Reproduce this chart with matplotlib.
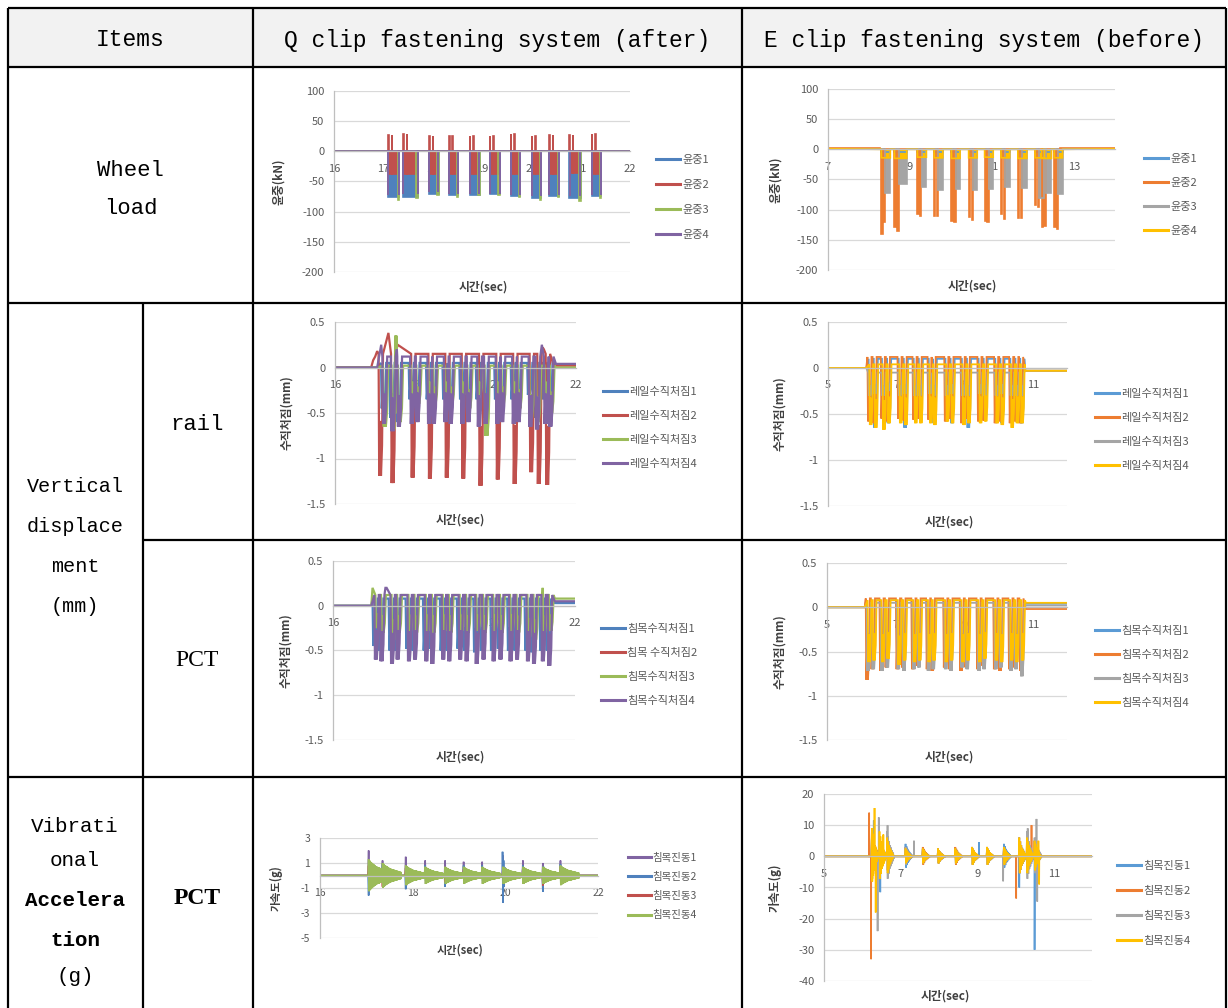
import matplotlib
matplotlib.use('Agg')
import matplotlib.pyplot as plt
from matplotlib.patches import Rectangle

# ====================== DATA ======================
HEADERS = ["Items", "Q clip fastening system (after)", "E clip fastening system (before)"]

# --- A: Q clip, wheel load (kN), x 16-22 ---
A_start = [17.10, 17.40, 17.93, 18.33, 18.75, 19.16, 19.58, 20.01, 20.36, 20.77, 21.22]
A_end   = [17.32, 17.70, 18.12, 18.52, 18.95, 19.36, 19.78, 20.20, 20.57, 21.00, 21.42]
A_load1 = [-75, -76, -70, -73, -72, -71, -74, -78, -74, -78, -74]
A_load2_up = [27, 28, 25, 26, 25, 25, 29, 25, 27, 27, 28]
A_load2_dn = [-38, -37, -38, -38, -37, -38, -38, -37, -38, -36, -38]
A_load3 = [-80, -78, -72, -75, -73, -72, -75, -80, -75, -82, -78]
A_load4 = [-72, -70, -68, -70, -70, -70, -72, -74, -72, -74, -72]

# --- B: E clip, wheel load (kN), x 7-14 ---
B_o_t = [8.30, 8.36, 8.62, 8.69, 9.18, 9.25, 9.59, 9.66, 10.01, 10.08, 10.43, 10.50,
         10.82, 10.89, 11.22, 11.29, 11.63, 11.70, 12.05, 12.11, 12.21, 12.28, 12.52, 12.59]
B_load2 = [-140, -120, -128, -135, -108, -110, -110, -110, -118, -120, -112, -117,
           -118, -120, -108, -115, -113, -113, -92, -95, -128, -127, -128, -132]
B_g_s = [8.40, 8.74, 9.29, 9.69, 10.11, 10.53, 10.92, 11.32, 11.73, 12.15, 12.32, 12.62]
B_g_e = [8.52, 8.92, 9.40, 9.80, 10.22, 10.64, 11.03, 11.43, 11.85, 12.28, 12.45, 12.72]
B_load3 = [-72, -57, -62, -67, -65, -67, -65, -62, -64, -80, -72, -74]
B_load4 = [-14, -15, -13, -14, -15, -14, -13, -14, -15, -14, -15, -14]
B_load1 = [-4, -4, -4, -4, -4, -4, -4, -4, -4, -4, -4, -4]

# --- C: Q clip, rail vertical displacement (mm), x 16-22 ---
C_dip_t = [17.24, 17.45, 17.61, 17.93, 18.07, 18.36, 18.48, 18.77, 18.90, 19.19, 19.34,
           19.60, 19.77, 20.06, 20.18, 20.47, 20.59, 20.88, 21.05, 21.26, 21.38]
C_rail1 = [-0.45, -0.55, -0.60, -0.35, -0.50, -0.35, -0.50, -0.35, -0.50, -0.35, -0.50,
           -0.35, -0.55, -0.35, -0.50, -0.35, -0.50, -0.30, -0.55, -0.35, -0.60]
C_rail3 = [-0.65, -0.68, -0.60, -0.30, -0.40, -0.30, -0.40, -0.30, -0.40, -0.30, -0.45,
           -0.30, -0.75, -0.30, -0.40, -0.30, -0.45, -0.55, -0.60, -0.30, -0.50]
C_rail4 = [-0.62, -0.70, -0.65, -0.62, -0.60, -0.62, -0.62, -0.60, -0.62, -0.62, -0.60,
           -0.65, -0.62, -0.62, -0.60, -0.62, -0.60, -0.65, -0.68, -0.62, -0.65]
C_red_t = [17.14, 17.45, 17.95, 18.38, 18.80, 19.21, 19.64, 20.07, 20.49, 20.90, 21.09, 21.30]
C_rail2 = [-1.19, -1.27, -1.21, -1.22, -1.21, -1.22, -1.30, -1.23, -1.28, -1.15, -1.28, -1.29]
C_red_pk_t = [16.95, 17.00, 17.05, 17.33, 17.56, 21.17, 21.20]
C_red_pk_v = [0.08, 0.12, 0.18, 0.38, 0.25, 0.22, 0.20]
C_pur_pk_t = [17.15, 17.54, 21.15]
C_pur_pk_v = [0.25, 0.20, 0.25]
C_grn_pk_t = [17.50, 17.53]
C_grn_pk_v = [0.35, 0.35]

# --- D: E clip, rail vertical displacement (mm), x 5-12 ---
D_dip_t = [6.24, 6.39, 6.63, 6.78, 7.12, 7.27, 7.56, 7.71, 8.00, 8.12, 8.49, 8.64,
           8.97, 9.12, 9.46, 9.61, 9.95, 10.10, 10.39, 10.54, 10.68]
D_rail1 = [-0.50, -0.65, -0.55, -0.60, -0.45, -0.65, -0.50, -0.55, -0.45, -0.60, -0.50,
           -0.60, -0.45, -0.65, -0.50, -0.55, -0.45, -0.60, -0.50, -0.55, -0.60]
D_rail2 = [-0.58, -0.60, -0.55, -0.58, -0.55, -0.57, -0.56, -0.55, -0.56, -0.55, -0.58,
           -0.55, -0.60, -0.55, -0.58, -0.57, -0.60, -0.58, -0.60, -0.58, -0.60]
D_rail3 = [-0.30, -0.28, -0.30, -0.25, -0.30, -0.28, -0.30, -0.30, -0.28, -0.30, -0.30,
           -0.28, -0.30, -0.30, -0.28, -0.30, -0.30, -0.28, -0.30, -0.30, -0.30]
D_rail4 = [-0.62, -0.65, -0.67, -0.60, -0.60, -0.62, -0.60, -0.60, -0.60, -0.62, -0.58,
           -0.60, -0.62, -0.60, -0.60, -0.58, -0.60, -0.62, -0.65, -0.60, -0.60]

# --- E: Q clip, sleeper (PCT) vertical displacement (mm), x 16-22 ---
E_dip_t = [17.08, 17.22, 17.48, 17.62, 17.90, 18.05, 18.33, 18.48, 18.75, 18.90, 19.17,
           19.33, 19.58, 19.75, 20.00, 20.17, 20.42, 20.58, 20.85, 21.00, 21.22, 21.38]
E_pct1 = [-0.45, -0.50, -0.50, -0.50, -0.48, -0.50, -0.50, -0.48, -0.50, -0.50, -0.48,
          -0.50, -0.52, -0.50, -0.50, -0.48, -0.50, -0.50, -0.50, -0.52, -0.50, -0.50]
E_pct3 = [-0.25, -0.30, -0.38, -0.30, -0.28, -0.30, -0.28, -0.30, -0.28, -0.30, -0.28,
          -0.30, -0.28, -0.30, -0.28, -0.30, -0.28, -0.30, -0.35, -0.38, -0.30, -0.28]
E_pct4 = [-0.60, -0.62, -0.65, -0.60, -0.62, -0.60, -0.62, -0.65, -0.60, -0.62, -0.60,
          -0.62, -0.65, -0.60, -0.62, -0.60, -0.62, -0.60, -0.62, -0.65, -0.62, -0.67]

# --- F: E clip, sleeper (PCT) vertical displacement (mm), x 5-12 ---
F_dip_t = [6.22, 6.37, 6.62, 6.78, 7.10, 7.26, 7.55, 7.70, 7.98, 8.12, 8.48, 8.63,
           8.96, 9.11, 9.45, 9.60, 9.94, 10.09, 10.38, 10.53, 10.70]
F_pct1 = [-0.60, -0.55, -0.60, -0.58, -0.60, -0.55, -0.58, -0.60, -0.55, -0.60, -0.58,
          -0.55, -0.60, -0.58, -0.55, -0.60, -0.58, -0.60, -0.55, -0.60, -0.58]
F_pct2 = [-0.82, -0.70, -0.72, -0.68, -0.70, -0.68, -0.70, -0.66, -0.70, -0.72, -0.68,
          -0.70, -0.72, -0.68, -0.70, -0.66, -0.70, -0.72, -0.70, -0.68, -0.72]
F_pct3 = [-0.72, -0.70, -0.72, -0.68, -0.70, -0.72, -0.70, -0.68, -0.72, -0.70, -0.70,
          -0.72, -0.68, -0.70, -0.72, -0.70, -0.70, -0.68, -0.72, -0.70, -0.78]
F_pct4 = [-0.62, -0.60, -0.62, -0.58, -0.65, -0.60, -0.62, -0.60, -0.62, -0.60, -0.62,
          -0.60, -0.62, -0.60, -0.62, -0.58, -0.60, -0.62, -0.60, -0.62, -0.60]

# --- G: Q clip, sleeper vibration acceleration (g), x 16-22 ---
G_burst_t = [17.05, 17.35, 17.85, 18.27, 18.70, 19.10, 19.50, 19.95, 20.38, 20.81, 21.19]
G_vib1 = [2.0, 1.2, 1.5, 1.2, 1.2, 1.1, 1.1, 1.6, 1.2, 1.0, 1.2]
G_vib2 = [-1.6, 0.9, -1.1, 0.8, -0.9, 0.8, 0.8, -2.2, 0.8, -1.3, 0.9]
G_vib3 = [0.8, -0.9, 0.6, 0.6, -0.5, 0.5, 0.5, 0.6, 0.6, -0.8, 0.7]
G_vib4 = [1.3, 1.0, 0.8, 0.7, 0.7, 0.7, 0.7, 0.7, 0.7, 0.7, 0.8]
G_spk_t = [19.94]
G_spk_v = [1.9]
G_RING_SHORT = [1.0, -0.55, 0.40, -0.30, 0.22, -0.15, 0.10, -0.05, 0.0]
G_RING_LONG = [1.0, -0.97, 0.94, -0.91, 0.88, -0.85, 0.82, -0.80, 0.78, -0.76, 0.74, -0.72,
               0.70, -0.68, 0.66, -0.64, 0.62, -0.60, 0.58, -0.56, 0.55, -0.54, 0.53, -0.52,
               0.51, -0.50, 0.49, -0.48, 0.47, -0.46, 0.45, -0.44, 0.43, -0.42, 0.41, -0.40,
               0.39, -0.38, 0.37, -0.36, 0.35, -0.34, 0.33, -0.32, 0.31, -0.30, 0.29, -0.28]

# --- H: E clip, sleeper vibration acceleration (g), x 5-12 ---
H_burst_t = [6.25, 6.45, 6.65, 7.13, 7.58, 7.98, 8.43, 8.87, 9.26, 9.70, 10.10, 10.30, 10.50]
H_vib1 = [6, 5, 5, 4, 2.5, 2.5, 2.5, 3, 3, 4, 6, 6, 5]
H_vib2 = [8, 6, 5, 3, 3, 2.5, 3, 3, 3, 3, 6, 6, 5]
H_vib3 = [6, 6, 8, 3, 2.5, 2.5, 2.5, 3, 3, 3, 6, 8, 6]
H_vib4 = [9, 8, 6, 2.5, 2.5, 2.5, 2.5, 3, 3, 3, 6, 6, 5]
H_spk1_t = [6.30, 6.47, 9.05, 10.10, 10.50]
H_spk1_v = [11.5, -11.5, 4.5, -10, -30]
H_spk2_t = [6.18, 6.23, 10.02, 10.42]
H_spk2_v = [14, -33, -13.5, 10]
H_spk3_t = [6.40, 6.43, 6.66, 7.35, 9.68, 10.32, 10.55, 10.57]
H_spk3_v = [-24, 12.5, 10, 5, -8, 9, 12, -14.5]
H_spk4_t = [6.32, 6.35, 6.55, 10.60, 10.62]
H_spk4_v = [15.5, -18, 7, 5, -9]
H_RING = [1.0, -0.9, 0.8, -0.7, 0.6, -0.5, 0.45, -0.4, 0.35, -0.3, 0.25, -0.2, 0.15, -0.1, 0.0]

# colours
Q_COL = ['#4F81BD', '#C0504D', '#9BBB59', '#8064A2']
E_COL = ['#5B9BD5', '#ED7D31', '#A5A5A5', '#FFC000']
G_COL = ['#8064A2', '#4F81BD', '#C0504D', '#9BBB59']

# dip outline template (relative time in dip widths, fraction of depth)
DIP_SHAPE = [(-0.5, 0.0), (-0.36, 1.0), (-0.16, 0.55), (0.04, 1.0), (0.28, 0.75), (0.5, 0.0)]

# ====================== FIGURE ======================
W, H = 1228, 1008
fig = plt.figure(figsize=(W / 100, H / 100), dpi=100)
plt.rcParams['font.family'] = ['Noto Sans CJK KR', 'DejaVu Sans']


def fbox(x0, y0, x1, y1):
    return [x0 / W, 1 - y1 / H, (x1 - x0) / W, (y1 - y0) / H]


# ---------- table ----------
bg = fig.add_axes([0, 0, 1, 1])
bg.set_xlim(0, W)
bg.set_ylim(H, 0)
bg.axis('off')
bg.add_patch(Rectangle((8, 8), 1218, 59, facecolor='#F2F2F2', edgecolor='none'))
LW = 1.6
for y, xa in [(8, 8), (67, 8), (303, 8), (540, 143), (777, 8)]:
    bg.plot([xa, 1226], [y, y], color='black', lw=LW, solid_capstyle='butt')
for x, ya in [(8, 8), (253, 8), (742, 8), (1226, 8), (143, 303)]:
    bg.plot([x, x], [ya, 1008], color='black', lw=LW, solid_capstyle='butt')

MONO = 'Liberation Mono'
SERIF = 'Liberation Serif'
bg.text(130, 40, HEADERS[0], ha='center', va='center', fontsize=16.5, family=MONO)
bg.text(497, 40, HEADERS[1], ha='center', va='center', fontsize=16.5, family=MONO)
bg.text(984, 40, HEADERS[2], ha='center', va='center', fontsize=16.5, family=MONO)
bg.text(130, 170, "Wheel", ha='center', va='center', fontsize=16, family=MONO)
bg.text(131, 209, "load", ha='center', va='center', fontsize=16, family=MONO)
for s, y in [("Vertical", 486), ("displace", 526), ("ment", 566), ("(mm)", 606)]:
    bg.text(75, y, s, ha='center', va='center', fontsize=14.5, family=MONO)
bg.text(197, 424, "rail", ha='center', va='center', fontsize=16, family=MONO)
bg.text(197, 661, "PCT", ha='center', va='center', fontsize=17, family=SERIF)
for s, y, wgt in [("Vibrati", 826, 'normal'), ("onal", 860, 'normal'),
                  ("Accelera", 900, 'bold'), ("tion", 940, 'bold'), ("(g)", 977, 'normal')]:
    bg.text(75, y, s, ha='center', va='center', fontsize=15, family=MONO, fontweight=wgt)
bg.text(197, 898, "PCT", ha='center', va='center', fontsize=17, family=SERIF, fontweight='bold')


# ---------- series builders ----------
def sort_pts(pts):
    pts = sorted(pts, key=lambda p: p[0])
    return [p[0] for p in pts], [p[1] for p in pts]


def dip_series(x0, x1, base0, base1, t_on, t_off, centers, depths, top, w,
               pk_t=(), pk_v=(), shift=0.0):
    pts = [(x0, base0), (t_on, base0)]
    for c, d in zip(centers, depths):
        for off, f in DIP_SHAPE:
            pts.append((c + shift + off * w, top + f * (d - top)))
    pts += list(zip(pk_t, pk_v))
    pts += [(t_off, base1), (x1, base1)]
    return sort_pts(pts)


def ring_series(x0, x1, centers, amps, ring, dt, sp_t=(), sp_v=(), eps=0.004):
    pts = [(x0, 0.0), (x1, 0.0)]
    for c, a in zip(centers, amps):
        pts.append((c - dt, 0.0))
        for k, r in enumerate(ring):
            pts.append((c + k * dt, a * r))
        pts.append((c + len(ring) * dt, 0.0))
    for t, v in zip(sp_t, sp_v):
        pts += [(t - eps, 0.0), (t, v), (t + eps, 0.0)]
    return sort_pts(pts)


def chart(bx, xlim, xticks, ylim, yticks, ylabel, series, colors, labels,
          ylab_x, xlab_xy, leg_xy, leg_sp, lw=1.4, fs=8, fs_leg=8, fills=None):
    x0, y0, x1, y1 = bx
    ax = fig.add_axes(fbox(*bx))
    ax.set_facecolor('none')
    if fills is None:
        fills = [False] * len(series)
    for (xs, ys), c, lab, fl in zip(series, colors, labels, fills):
        if fl:
            ax.fill_between(xs, ys, 0, color=c, lw=0)
        ax.plot(xs, ys, color=c, lw=lw, label=lab, solid_joinstyle='miter')
    ax.set_xlim(*xlim)
    ax.set_ylim(*ylim)
    ax.set_yticks(yticks)
    ax.set_yticklabels([f'{v:g}' for v in yticks])
    ax.set_xticks(xticks)
    ax.set_xticklabels([f'{v:g}' for v in xticks])
    ax.grid(axis='y', color='#D9D9D9', lw=0.9)
    ax.set_axisbelow(True)
    for s in ['top', 'right']:
        ax.spines[s].set_visible(False)
    ax.spines['left'].set_color('#BFBFBF')
    ax.spines['left'].set_linewidth(0.9)
    ax.spines['bottom'].set_position(('data', 0))
    ax.spines['bottom'].set_color('#BFBFBF')
    ax.spines['bottom'].set_linewidth(0.9)
    ax.tick_params(length=0, labelsize=fs, labelcolor='#595959')
    ax.tick_params(axis='y', pad=7)
    ax.tick_params(axis='x', pad=9)
    ax.set_ylabel(ylabel, fontsize=fs + 0.5, fontweight='bold', color='#404040')
    ax.yaxis.set_label_coords((ylab_x + 7 - x0) / (x1 - x0), 0.5)
    ax.set_xlabel('시간(sec)', fontsize=fs + 0.5, fontweight='bold', color='#404040')
    ax.xaxis.set_label_coords((xlab_xy[0] - x0) / (x1 - x0), -(xlab_xy[1] - 7 - y1) / (y1 - y0))
    lx, ly = leg_xy
    leg = ax.legend(loc='upper left', bbox_to_anchor=(lx / W, 1 - (ly - 4) / H),
                    bbox_transform=fig.transFigure, frameon=False, fontsize=fs_leg,
                    labelspacing=(leg_sp - 10) / (fs_leg * 1.389), handlelength=2.2,
                    handletextpad=0.15, borderpad=0, borderaxespad=0)
    for t in leg.get_texts():
        t.set_color('#595959')
    for l in leg.get_lines():
        l.set_linewidth(2.2)
    return ax


# ---------- A ----------
def q_wheel():
    b = [[16], [0]]; r = [[16], [0]]; g = [[16], [0]]; p = [[16], [0]]
    for s, e, d1, up, dn, d3, d4 in zip(A_start, A_end, A_load1, A_load2_up, A_load2_dn,
                                        A_load3, A_load4):
        b[0] += [s, s, e, e]; b[1] += [0, d1, d1, 0]
        r[0] += [s, s, s + 0.012, s + 0.012, s + 0.07, s + 0.07, s + 0.082, s + 0.082,
                 e - 0.02, e - 0.02]
        r[1] += [0, up, up, dn, dn, up, up, dn, dn, 0]
        g[0] += [e - 0.03, e - 0.03, e, e]; g[1] += [0, d3, d3, 0]
        for t in [s + 0.004, e - 0.004]:
            p[0] += [t, t, t]; p[1] += [0, d4, 0]
    for sr in (b, r, g, p):
        sr[0].append(22); sr[1].append(0)
    return [b, r, g, p]


chart((334, 91, 630, 272), (16, 22), [16, 17, 18, 19, 20, 21, 22], (-200, 100),
      [100, 50, 0, -50, -100, -150, -200], '윤중(kN)', q_wheel(), Q_COL,
      ['윤중1', '윤중2', '윤중3', '윤중4'], 278, (483, 288), (656, 159), 25,
      lw=1.2, fills=[True, True, True, False])


# ---------- B ----------
def e_wheel():
    o = [[7, 8.28, 8.28], [3, 3, 0]]
    for t, v in zip(B_o_t, B_load2):
        o[0] += [t, t, t + 0.03, t + 0.03]; o[1] += [0, v, v, 0]
    o[0] += [12.65, 12.65, 14]; o[1] += [0, 3, 3]
    gr = [[7], [0]]
    for s, e, v in zip(B_g_s, B_g_e, B_load3):
        gr[0] += [s, s, e, e]; gr[1] += [0, v, v, 0]
    gr[0].append(14); gr[1].append(0)
    y = [[7], [1]]; bl = [[7], [0]]
    for s, e, v, v1 in zip(B_o_t[::2], B_g_e, B_load4, B_load1):
        y[0] += [s, s, e, e]; y[1] += [0, v, v, 0]
        bl[0] += [s, s, e, e]; bl[1] += [0, v1, v1, 0]
    y[0].append(14); y[1].append(1)
    bl[0].append(14); bl[1].append(0)
    return [bl, o, gr, y]


chart((828, 89, 1115, 270), (7, 14), [7, 9, 11, 13], (-200, 100),
      [100, 50, 0, -50, -100, -150, -200], '윤중(kN)', e_wheel(), E_COL,
      ['윤중1', '윤중2', '윤중3', '윤중4'], 775, (972, 287), (1144, 158), 24,
      lw=1.2, fills=[False, True, True, True])

# ---------- C ----------
C_series = [
    dip_series(16, 22, 0, 0.03, 17.05, 21.50, C_dip_t, C_rail1, 0.05, 0.13, shift=-0.03),
    dip_series(16, 22, 0, 0.02, 16.90, 21.45, C_red_t, C_rail2, 0.15, 0.11, C_red_pk_t, C_red_pk_v),
    dip_series(16, 22, 0, 0.0, 17.05, 21.50, C_dip_t, C_rail3, 0.02, 0.13, C_grn_pk_t, C_grn_pk_v,
               shift=0.02),
    dip_series(16, 22, 0, 0.04, 17.05, 21.50, C_dip_t, C_rail4, 0.12, 0.12, C_pur_pk_t, C_pur_pk_v),
]
chart((335, 322, 576, 504), (16, 22), [16, 18, 20, 22], (-1.5, 0.5),
      [0.5, 0, -0.5, -1, -1.5], '수직처짐(mm)', C_series, Q_COL,
      ['레일수직처짐1', '레일수직처짐2', '레일수직처짐3', '레일수직처짐4'],
      286, (460, 521), (603, 391), 24, lw=1.6)

# ---------- D ----------
D_series = [
    dip_series(5, 12, 0, -0.03, 6.12, 10.78, D_dip_t, D_rail1, 0.10, 0.12, shift=0.01),
    dip_series(5, 12, 0, -0.03, 6.12, 10.78, D_dip_t, D_rail2, 0.12, 0.12, shift=-0.025),
    dip_series(5, 12, 0, -0.03, 6.12, 10.78, D_dip_t, D_rail3, -0.05, 0.12),
    dip_series(5, 12, 0, -0.03, 6.12, 10.78, D_dip_t, D_rail4, 0.04, 0.11, shift=0.025),
]
chart((828, 322, 1067, 506), (5, 12), [5, 7, 9, 11], (-1.5, 0.5),
      [0.5, 0, -0.5, -1, -1.5], '수직처짐(mm)', D_series, E_COL,
      ['레일수직처짐1', '레일수직처짐2', '레일수직처짐3', '레일수직처짐4'],
      779, (949, 523), (1095, 393), 24, lw=1.3)

# ---------- E ----------
E_series = [
    dip_series(16, 22, 0, 0.03, 16.95, 21.50, E_dip_t, E_pct1, 0.08, 0.13, shift=-0.035),
    ([], []),
    dip_series(16, 22, 0, 0.08, 16.95, 21.50, E_dip_t, E_pct3, 0.12, 0.12,
               [16.98, 21.20], [0.20, 0.20], shift=0.03),
    dip_series(16, 22, 0, 0.05, 16.95, 21.50, E_dip_t, E_pct4, 0.12, 0.11,
               [17.30, 17.33], [0.20, 0.20]),
]
chart((333, 561, 575, 740), (16, 22), [16, 18, 20, 22], (-1.5, 0.5),
      [0.5, 0, -0.5, -1, -1.5], '수직처짐(mm)', E_series, Q_COL,
      ['침목수직처짐1', '침목 수직처짐2', '침목수직처짐3', '침목수직처짐4'],
      285, (460, 758), (601, 628), 24, lw=1.6)

# ---------- F ----------
F_series = [
    dip_series(5, 12, 0, 0.04, 6.10, 10.80, F_dip_t, F_pct1, 0.08, 0.12, shift=-0.015),
    dip_series(5, 12, 0, -0.02, 6.10, 10.80, F_dip_t, F_pct2, 0.10, 0.12, shift=-0.03),
    dip_series(5, 12, 0, 0.02, 6.10, 10.80, F_dip_t, F_pct3, 0.05, 0.12),
    dip_series(5, 12, 0, 0.05, 6.10, 10.80, F_dip_t, F_pct4, 0.08, 0.11, shift=0.02),
]
chart((827, 563, 1067, 740), (5, 12), [5, 7, 9, 11], (-1.5, 0.5),
      [0.5, 0, -0.5, -1, -1.5], '수직처짐(mm)', F_series, E_COL,
      ['침목수직처짐1', '침목수직처짐2', '침목수직처짐3', '침목수직처짐4'],
      779, (949, 758), (1095, 630), 24, lw=1.3)

# ---------- G ----------
G_series = [
    ring_series(16, 22, G_burst_t, G_vib1, G_RING_SHORT, 0.012),
    ring_series(16, 22, G_burst_t, G_vib2, G_RING_SHORT, 0.012, G_spk_t, G_spk_v),
    ring_series(16, 22, G_burst_t, G_vib3, G_RING_SHORT, 0.014),
    ring_series(16, 22, G_burst_t, G_vib4, G_RING_LONG, 0.0085),
]
chart((320, 838, 598, 938), (16, 22), [16, 18, 20, 22], (-5, 3),
      [3, 1, -1, -3, -5], '가속도(g)', G_series, G_COL,
      ['침목진동1', '침목진동2', '침목진동3', '침목진동4'],
      276, (460, 951), (628, 857), 19, lw=1.2, fs=7.5, fs_leg=7.5)

# ---------- H ----------
H_series = [
    ring_series(5, 12, H_burst_t, H_vib1, H_RING, 0.013, H_spk1_t, H_spk1_v),
    ring_series(5, 12, H_burst_t, H_vib2, H_RING, 0.013, H_spk2_t, H_spk2_v),
    ring_series(5, 12, H_burst_t, H_vib3, H_RING, 0.013, H_spk3_t, H_spk3_v),
    ring_series(5, 12, H_burst_t, H_vib4, H_RING, 0.012, H_spk4_t, H_spk4_v),
]
chart((824, 794, 1092, 981), (5, 12), [5, 7, 9, 11], (-40, 20),
      [20, 10, 0, -10, -20, -30, -40], '가속도(g)', H_series, E_COL,
      ['침목진동1', '침목진동2', '침목진동3', '침목진동4'],
      775, (945, 997), (1117, 865), 25, lw=1.2)

fig.savefig('out.png', dpi=100)
